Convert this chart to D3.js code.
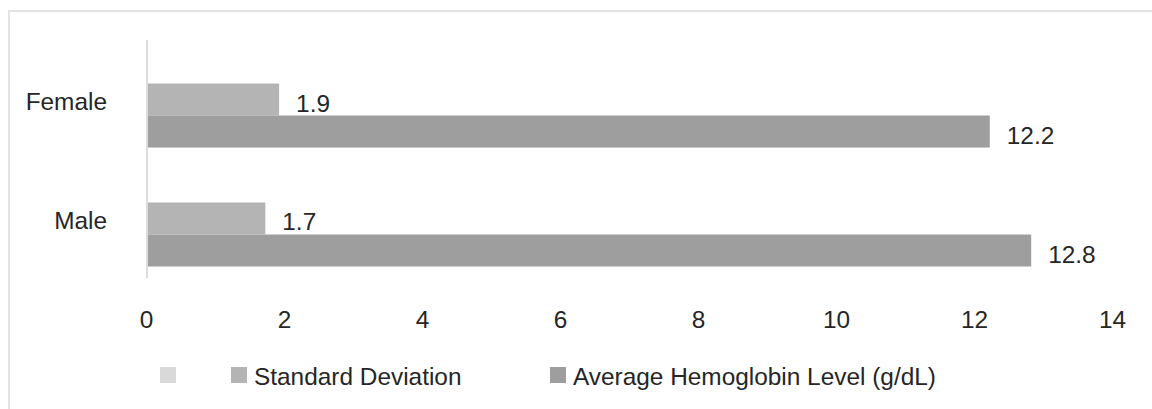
<!DOCTYPE html>
<html>
<head>
<meta charset="utf-8">
<script src="https://cdn.jsdelivr.net/npm/d3@7/dist/d3.min.js"></script>
<style>
  html, body { margin: 0; padding: 0; background: #fff; }
  svg { display: block; font-family: "Liberation Sans", Arial, Helvetica, sans-serif; }
</style>
</head>
<body>
<svg id="chart" width="1152" height="409"></svg>
<script>
// Hemoglobin by sex: mean level and its standard deviation
const categories = ["Female", "Male"];
const seriesNames = ["", "Standard Deviation", "Average Hemoglobin Level (g/dL)"];
const blankValues = [null, null];
const sdValues = [1.9, 1.7];
const avgValues = [12.2, 12.8];
const xTicks = [0, 2, 4, 6, 8, 10, 12, 14];
const seriesColors = ["#d9d9d9", "#b4b4b4", "#9e9e9e"];

const seriesValues = [blankValues, sdValues, avgValues];

const svg = d3.select("#chart");
const textColor = "#262626";
const fontSize = 24.4;

// outer frame
svg.append("rect")
  .attr("x", 9).attr("y", 11)
  .attr("width", 1300).attr("height", 600)
  .attr("fill", "none")
  .attr("stroke", "#e3e3e3")
  .attr("stroke-width", 2);

const x = d3.scaleLinear().domain([0, 14]).range([148, 1114]);

const y = d3.scaleBand()
  .domain(categories)
  .range([40, 278])
  .paddingInner(0.193)
  .paddingOuter(0.0966);

const ySeries = d3.scaleBand()
  .domain(seriesNames.map((_, i) => i))
  .range([0, y.bandwidth()]);

// bars
const rows = [];
categories.forEach((c, ci) => {
  seriesValues.forEach((vals, si) => {
    if (vals[ci] != null) rows.push({ cat: c, s: si, v: vals[ci] });
  });
});

const g = svg.append("g");
g.selectAll("rect.bar")
  .data(rows)
  .join("rect")
  .attr("class", "bar")
  .attr("x", x(0))
  .attr("y", d => y(d.cat) + ySeries(d.s))
  .attr("width", d => x(d.v) - x(0))
  .attr("height", ySeries.bandwidth())
  .attr("fill", d => seriesColors[d.s]);

// value labels
g.selectAll("text.val")
  .data(rows)
  .join("text")
  .attr("class", "val")
  .attr("x", d => x(d.v) + 17)
  .attr("y", d => y(d.cat) + ySeries(d.s) + ySeries.bandwidth() / 2 + 12)
  .attr("fill", textColor)
  .attr("font-size", fontSize)
  .text(d => d3.format(".1f")(d.v));

// vertical category axis line
svg.append("line")
  .attr("x1", 147).attr("x2", 147)
  .attr("y1", 40).attr("y2", 278)
  .attr("stroke", "#dcdcdc")
  .attr("stroke-width", 2);

// category labels
svg.selectAll("text.cat")
  .data(categories)
  .join("text")
  .attr("class", "cat")
  .attr("x", 107)
  .attr("y", d => y(d) + y.bandwidth() / 2 + 10.5)
  .attr("text-anchor", "end")
  .attr("fill", textColor)
  .attr("font-size", fontSize)
  .text(d => d);

// x tick labels
svg.selectAll("text.tick")
  .data(xTicks)
  .join("text")
  .attr("class", "tick")
  .attr("x", d => x(d) - 1.5)
  .attr("y", 328)
  .attr("text-anchor", "middle")
  .attr("fill", textColor)
  .attr("font-size", fontSize)
  .text(d => d);

// legend
const legendX = [160, 231, 550];
const legend = svg.selectAll("g.legend")
  .data(seriesNames)
  .join("g")
  .attr("class", "legend")
  .attr("transform", (d, i) => `translate(${legendX[i]},367)`);

legend.append("rect")
  .attr("width", 16).attr("height", 16)
  .attr("fill", (d, i) => seriesColors[i]);

legend.append("text")
  .attr("x", 23)
  .attr("y", 18)
  .attr("fill", textColor)
  .attr("font-size", fontSize)
  .text(d => d);
</script>
</body>
</html>
